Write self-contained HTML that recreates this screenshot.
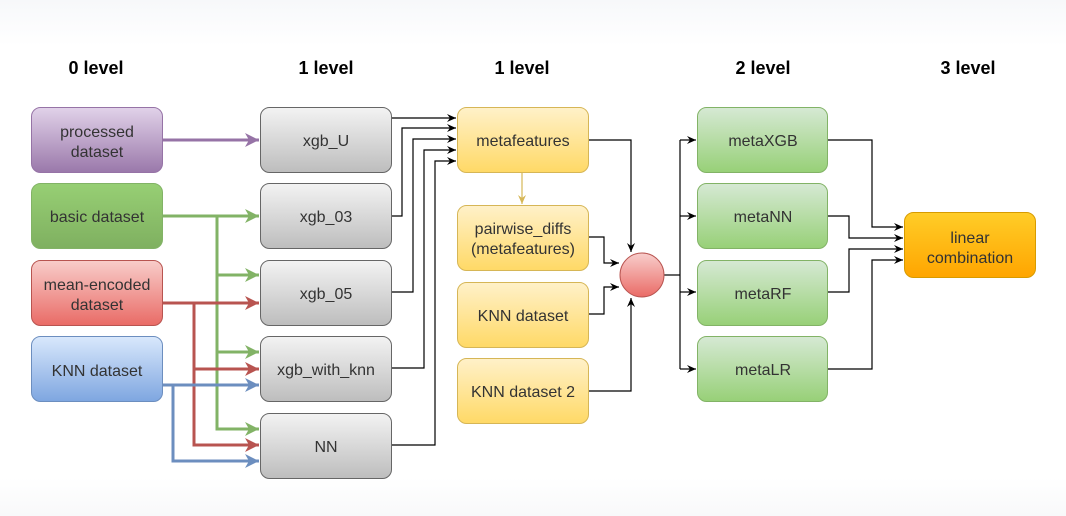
<!DOCTYPE html>
<html><head><meta charset="utf-8"><style>
html,body{margin:0;padding:0;width:1066px;height:516px;overflow:hidden;background:#fff}
svg{display:block}
text{font-family:"Liberation Sans",Arial,sans-serif;font-size:16px;fill:#333;text-anchor:middle}
.h{font-size:18px;font-weight:bold;fill:#000}
</style></head><body>
<svg width="1066" height="516" viewBox="0 0 1066 516" xmlns="http://www.w3.org/2000/svg">
<defs>
<linearGradient id="bgt" x1="0" y1="0" x2="0" y2="1"><stop offset="0" stop-color="#f7f8fa"/><stop offset="1" stop-color="#ffffff"/></linearGradient>
<linearGradient id="bgb" x1="0" y1="0" x2="0" y2="1"><stop offset="0" stop-color="#ffffff"/><stop offset="1" stop-color="#f8f9fa"/></linearGradient>
<linearGradient id="gPur" x1="0" y1="0" x2="0" y2="1"><stop offset="0" stop-color="#e1d2e9"/><stop offset="1" stop-color="#9a78aa"/></linearGradient>
<linearGradient id="gGrn" x1="0" y1="0" x2="0" y2="1"><stop offset="0" stop-color="#97cf74"/><stop offset="1" stop-color="#7fb060"/></linearGradient>
<linearGradient id="gRed" x1="0" y1="0" x2="0" y2="1"><stop offset="0" stop-color="#f8cdca"/><stop offset="1" stop-color="#e96b66"/></linearGradient>
<linearGradient id="gBlu" x1="0" y1="0" x2="0" y2="1"><stop offset="0" stop-color="#d9e8fc"/><stop offset="1" stop-color="#7ea6e0"/></linearGradient>
<linearGradient id="gGry" x1="0" y1="0" x2="0" y2="1"><stop offset="0" stop-color="#f3f3f3"/><stop offset="1" stop-color="#bdbdbd"/></linearGradient>
<linearGradient id="gYel" x1="0" y1="0" x2="0" y2="1"><stop offset="0" stop-color="#fff1c9"/><stop offset="1" stop-color="#ffd966"/></linearGradient>
<linearGradient id="gMet" x1="0" y1="0" x2="0" y2="1"><stop offset="0" stop-color="#d6e9d4"/><stop offset="1" stop-color="#97d077"/></linearGradient>
<linearGradient id="gOra" x1="0" y1="0" x2="0" y2="1"><stop offset="0" stop-color="#ffcd28"/><stop offset="1" stop-color="#ffa500"/></linearGradient>
<linearGradient id="gCir" x1="0" y1="0" x2="0" y2="1"><stop offset="0" stop-color="#f8cecc"/><stop offset="1" stop-color="#ea6b66"/></linearGradient>
<marker id="ab" markerWidth="10" markerHeight="10" refX="9" refY="5" orient="auto" markerUnits="userSpaceOnUse"><path d="M0,1 L9,5 L0,9 L3,5 Z" fill="#000"/></marker>
<marker id="ay" markerWidth="10" markerHeight="10" refX="9" refY="5" orient="auto" markerUnits="userSpaceOnUse"><path d="M0,1 L9,5 L0,9 L3,5 Z" fill="#d6b656"/></marker>
<marker id="ap" markerWidth="16" markerHeight="16" refX="14" refY="8" orient="auto" markerUnits="userSpaceOnUse"><path d="M0,1 L14,8 L0,15 L4,8 Z" fill="#9673a6"/></marker>
<marker id="ag" markerWidth="16" markerHeight="16" refX="14" refY="8" orient="auto" markerUnits="userSpaceOnUse"><path d="M0,1 L14,8 L0,15 L4,8 Z" fill="#82b366"/></marker>
<marker id="ar" markerWidth="16" markerHeight="16" refX="14" refY="8" orient="auto" markerUnits="userSpaceOnUse"><path d="M0,1 L14,8 L0,15 L4,8 Z" fill="#b85450"/></marker>
<marker id="al" markerWidth="16" markerHeight="16" refX="14" refY="8" orient="auto" markerUnits="userSpaceOnUse"><path d="M0,1 L14,8 L0,15 L4,8 Z" fill="#6c8ebf"/></marker>
</defs>
<rect x="0" y="0" width="1066" height="46" fill="url(#bgt)"/>
<rect x="0" y="478" width="1066" height="38" fill="url(#bgb)"/>

<text class="h" x="96" y="74">0 level</text>
<text class="h" x="326" y="74">1 level</text>
<text class="h" x="522" y="74">1 level</text>
<text class="h" x="763" y="74">2 level</text>
<text class="h" x="968" y="74">3 level</text>

<g fill="none" stroke-width="3">
<path d="M162,140 H259" stroke="#9673a6" marker-end="url(#ap)"/>
<g stroke="#82b366">
<path d="M162,216 H259" marker-end="url(#ag)"/>
<path d="M217,216 V275 H259" marker-end="url(#ag)"/>
<path d="M217,275 V352 H259" marker-end="url(#ag)"/>
<path d="M217,352 V429 H259" marker-end="url(#ag)"/>
</g>
<g stroke="#b85450">
<path d="M162,303 H259" marker-end="url(#ar)"/>
<path d="M194,303 V369 H259" marker-end="url(#ar)"/>
<path d="M194,369 V445 H259" marker-end="url(#ar)"/>
</g>
<g stroke="#6c8ebf">
<path d="M162,385 H259" marker-end="url(#al)"/>
<path d="M173,385 V461 H259" marker-end="url(#al)"/>
</g>
</g>

<g fill="none" stroke="#000" stroke-width="1.2">
<path d="M391,118 H456" marker-end="url(#ab)"/>
<path d="M391,216 H402 V128 H456" marker-end="url(#ab)"/>
<path d="M391,292 H413 V139 H456" marker-end="url(#ab)"/>
<path d="M391,368 H424 V150 H456" marker-end="url(#ab)"/>
<path d="M391,445 H435 V161 H456" marker-end="url(#ab)"/>
<path d="M588,140 H631 V252" marker-end="url(#ab)"/>
<path d="M588,237 H604 V263 H619" marker-end="url(#ab)"/>
<path d="M588,314 H604 V287 H619" marker-end="url(#ab)"/>
<path d="M588,391 H631 V298" marker-end="url(#ab)"/>
<path d="M664,275 H680"/>
<path d="M680,140 V369"/>
<path d="M680,140 H696" marker-end="url(#ab)"/>
<path d="M680,216 H696" marker-end="url(#ab)"/>
<path d="M680,292 H696" marker-end="url(#ab)"/>
<path d="M680,369 H696" marker-end="url(#ab)"/>
<path d="M827,140 H872 V227 H903" marker-end="url(#ab)"/>
<path d="M827,216 H849 V238 H903" marker-end="url(#ab)"/>
<path d="M827,292 H849 V249 H903" marker-end="url(#ab)"/>
<path d="M827,369 H872 V260 H903" marker-end="url(#ab)"/>
</g>
<path d="M522,172 V204" stroke="#d6b656" stroke-width="1.2" fill="none" marker-end="url(#ay)"/>

<rect x="31.5" y="107.5" width="131" height="65" rx="9" fill="url(#gPur)" stroke="#9673a6"/>
<text x="97" y="137">processed</text><text x="97" y="157">dataset</text>
<rect x="31.5" y="183.5" width="131" height="65" rx="9" fill="url(#gGrn)" stroke="#82b366"/>
<text x="97" y="222">basic dataset</text>
<rect x="31.5" y="260.5" width="131" height="65" rx="9" fill="url(#gRed)" stroke="#b85450"/>
<text x="97" y="290">mean-encoded</text><text x="97" y="310">dataset</text>
<rect x="31.5" y="336.5" width="131" height="65" rx="9" fill="url(#gBlu)" stroke="#6c8ebf"/>
<text x="97" y="376">KNN dataset</text>

<g stroke="#666">
<rect x="260.5" y="107.5" width="131" height="65" rx="9" fill="url(#gGry)"/>
<rect x="260.5" y="183.5" width="131" height="65" rx="9" fill="url(#gGry)"/>
<rect x="260.5" y="260.5" width="131" height="65" rx="9" fill="url(#gGry)"/>
<rect x="260.5" y="336.5" width="131" height="65" rx="9" fill="url(#gGry)"/>
<rect x="260.5" y="413.5" width="131" height="65" rx="9" fill="url(#gGry)"/>
</g>
<text x="326" y="146">xgb_U</text>
<text x="326" y="222">xgb_03</text>
<text x="326" y="299">xgb_05</text>
<text x="326" y="375">xgb_with_knn</text>
<text x="326" y="452">NN</text>

<g stroke="#d6b656">
<rect x="457.5" y="107.5" width="131" height="65" rx="9" fill="url(#gYel)"/>
<rect x="457.5" y="205.5" width="131" height="65" rx="9" fill="url(#gYel)"/>
<rect x="457.5" y="282.5" width="131" height="65" rx="9" fill="url(#gYel)"/>
<rect x="457.5" y="358.5" width="131" height="65" rx="9" fill="url(#gYel)"/>
</g>
<text x="523" y="146">metafeatures</text>
<text x="523" y="234">pairwise_diffs</text><text x="523" y="254">(metafeatures)</text>
<text x="523" y="321">KNN dataset</text>
<text x="523" y="397">KNN dataset 2</text>

<circle cx="642" cy="275" r="22" fill="url(#gCir)" stroke="#b85450"/>

<g stroke="#82b366">
<rect x="697.5" y="107.5" width="130" height="65" rx="9" fill="url(#gMet)"/>
<rect x="697.5" y="183.5" width="130" height="65" rx="9" fill="url(#gMet)"/>
<rect x="697.5" y="260.5" width="130" height="65" rx="9" fill="url(#gMet)"/>
<rect x="697.5" y="336.5" width="130" height="65" rx="9" fill="url(#gMet)"/>
</g>
<text x="763" y="146">metaXGB</text>
<text x="763" y="222">metaNN</text>
<text x="763" y="299">metaRF</text>
<text x="763" y="375">metaLR</text>

<rect x="904.5" y="212.5" width="131" height="65" rx="9" fill="url(#gOra)" stroke="#d79b00"/>
<text x="970" y="243">linear</text><text x="970" y="263">combination</text>
</svg>
</body></html>
